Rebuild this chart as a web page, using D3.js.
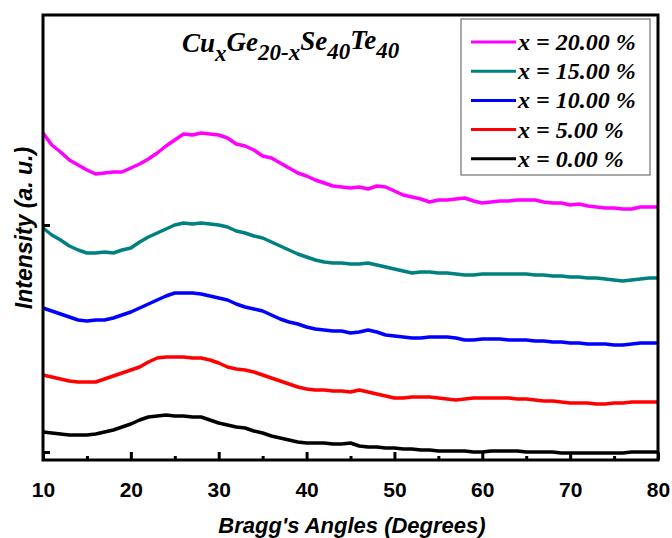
<!DOCTYPE html>
<html><head><meta charset="utf-8">
<script src="https://cdn.jsdelivr.net/npm/d3@7"></script>
<style>body{margin:0;background:#fff}svg{display:block}</style>
</head><body>
<script>
// Data (intensity in arbitrary units, 1° steps from 10° to 80°)
const angles = d3.range(10, 81, 1);
const seriesNames = ["x = 20.00 %", "x = 15.00 %", "x = 10.00 %", "x = 5.00 %", "x = 0.00 %"];
const seriesColors = ["#ff00ff", "#008080", "#0000ff", "#ff0000", "#000000"];
const x20 = [327,315,308,300,295,290,286,287,288,288, 292,296,301,307,314,320,326,325,327,326,
  325,322,316,314,310,304,302,297,292,287, 284,280,277,274,273,272,273,271,274,273,
  269,265,263,261,258,260,260,261,262,259, 257,258,259,259,260,260,260,258,257,257,
  255,256,254,253,252,252,251,251,253,253,253];
const x15 = [232,225,220,214,210,207,207,208,207,210, 212,218,223,227,231,235,237,236,237,236,
  235,233,229,227,224,222,218,214,210,206, 203,200,198,197,197,196,196,197,195,193,
  191,189,187,188,188,187,187,186,185,185, 186,186,186,186,186,186,185,185,184,184,
  183,183,182,182,181,180,179,180,181,182,182];
const x10 = [152,149,146,143,140,139,140,140,142,145, 148,152,156,160,164,167,167,167,166,164,
  162,160,156,153,151,149,145,141,138,136, 133,131,130,129,129,127,128,130,128,125,
  124,123,122,122,123,123,123,122,120,120, 121,121,121,120,120,120,119,119,118,118,
  117,117,116,116,116,115,115,116,117,117,117];
const x5 = [85,83,81,79,78,78,78,81,84,87, 90,93,98,102,103,103,103,102,102,100,
  97,93,91,90,88,85,82,79,76,73, 71,70,70,69,69,68,70,68,66,64,
  62,62,63,63,63,62,61,60,61,62, 62,62,62,62,61,61,60,59,59,58,
  57,57,57,56,56,57,57,58,58,58,58];
const x0 = [28,27,26,25,25,25,26,28,30,33, 36,40,43,44,45,44,44,43,43,40,
  37,35,33,32,29,27,24,22,20,18, 17,17,17,16,16,17,14,13,13,12,
  12,11,11,10,10,9,9,9,9,8, 8,9,9,9,9,8,8,8,8,7,
  7,7,7,7,7,7,7,8,8,8,8];
const seriesValues = [x20, x15, x10, x5, x0];
const xTicks = [10,20,30,40,50,60,70,80];
const xMinorTicks = [15,25,35,45,55,65,75];
const yTicks = [8, 235];

const W = 672, H = 538;
const L = 43, R = 658, T = 15, B = 460;
const svg = d3.select("body").append("svg").attr("width", W).attr("height", H);
const xs = d3.scaleLinear().domain([10, 80]).range([L, R]);
const ys = d3.scaleLinear().domain([0, 445]).range([B, T]);

const line = d3.line().x((d, i) => xs(angles[i])).y(d => ys(d));
const g = svg.append("g");
seriesValues.forEach((vals, k) => {
  g.append("path").datum(vals).attr("d", line)
    .attr("fill", "none").attr("stroke", seriesColors[k]).attr("stroke-width", 3.5)
    .attr("stroke-linejoin", "round");
});

// x axis (ticks inward)
const xAxis = d3.axisBottom(xs).tickValues(xTicks).tickSize(-8).tickPadding(22).tickFormat(d3.format("d"));
const xa = svg.append("g").attr("transform", `translate(0,${B})`).call(xAxis);
xa.select(".domain").remove();
xa.selectAll(".tick line").attr("stroke", "#000").attr("stroke-width", 3);
xa.selectAll(".tick text").attr("font-family", "Liberation Sans, Arial, sans-serif")
  .attr("font-weight", "bold").attr("font-size", 21).attr("fill", "#000");
const xMinor = d3.axisBottom(xs).tickValues(xMinorTicks).tickSize(-4).tickFormat("");
const xm = svg.append("g").attr("transform", `translate(0,${B})`).call(xMinor);
xm.select(".domain").remove();
xm.selectAll(".tick line").attr("stroke", "#000").attr("stroke-width", 3);

// y axis ticks (inward, no labels)
const yAxis = d3.axisLeft(ys).tickValues(yTicks).tickSize(-7).tickFormat("");
const ya = svg.append("g").attr("transform", `translate(${L},0)`).call(yAxis);
ya.select(".domain").remove();
ya.selectAll(".tick line").attr("stroke", "#000").attr("stroke-width", 3);

// frame
svg.append("rect").attr("x", L).attr("y", T).attr("width", R - L).attr("height", B - T)
  .attr("fill", "none").attr("stroke", "#000").attr("stroke-width", 3);

// axis titles
svg.append("text").attr("x", 352).attr("y", 533).attr("text-anchor", "middle")
  .attr("font-family", "Liberation Sans, Arial, sans-serif").attr("font-weight", "bold")
  .attr("font-style", "italic").attr("font-size", 22).text("Bragg's Angles (Degrees)");
svg.append("text").attr("transform", "translate(32,228) rotate(-90)").attr("text-anchor", "middle")
  .attr("font-family", "Liberation Sans, Arial, sans-serif").attr("font-weight", "bold")
  .attr("font-style", "italic").attr("font-size", 23).text("Intensity (a. u.)");

// composition title
const tt = svg.append("text").attr("x", 182).attr("y", 52)
  .attr("font-family", "Liberation Serif, Times New Roman, serif").attr("font-weight", "bold")
  .attr("font-style", "italic").attr("font-size", 27);
const parts = [["Cu",0],["x",1],["Ge",0],["20-x",1],["Se",0],["40",1],["Te",0],["40",1]];
let prev = 0;
parts.forEach(([t, sub]) => {
  tt.append("tspan").attr("dy", (sub === prev) ? 0 : (sub ? 9 : -10))
    .attr("font-size", sub ? 23 : 27).text(t);
  prev = sub;
});

// legend
const lg = svg.append("g");
lg.append("rect").attr("x", 461).attr("y", 19).attr("width", 189).attr("height", 156)
  .attr("fill", "#fff").attr("stroke", "#555").attr("stroke-width", 1);
seriesNames.forEach((n, k) => {
  const yy = 42 + k * 29.2;
  lg.append("line").attr("x1", 471).attr("x2", 516).attr("y1", yy).attr("y2", yy)
    .attr("stroke", seriesColors[k]).attr("stroke-width", 3);
  lg.append("text").attr("x", 518).attr("y", yy + 8)
    .attr("font-family", "Liberation Serif, Times New Roman, serif").attr("font-weight", "bold")
    .attr("font-style", "italic").attr("font-size", 24).text(n);
});
</script>
</body></html>
